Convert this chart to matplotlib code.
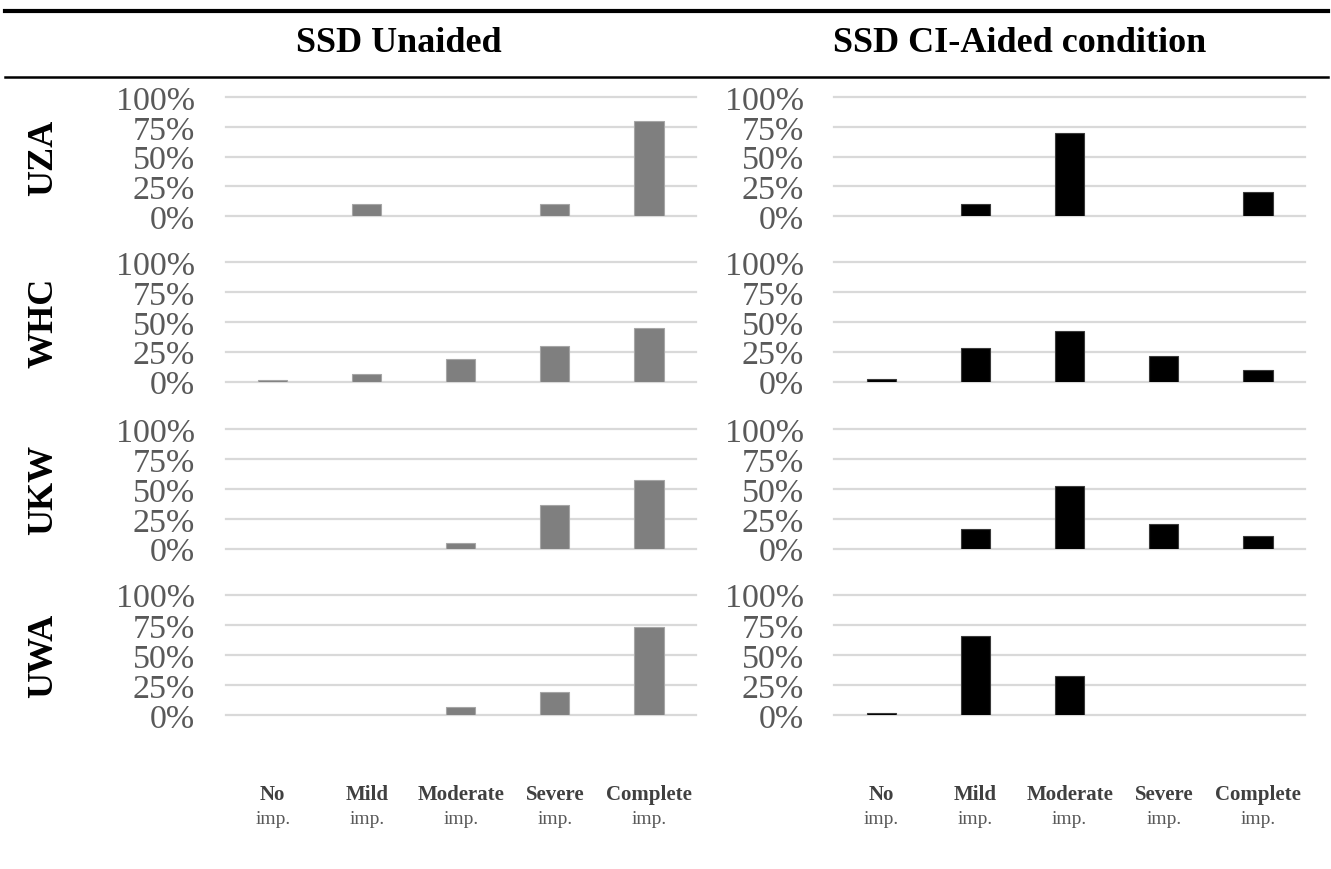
import matplotlib
matplotlib.use('Agg')
import matplotlib.pyplot as plt
import matplotlib.transforms as mtransforms
from matplotlib.lines import Line2D
from matplotlib.ticker import PercentFormatter

# data (percent of listeners per category)
categories = ['No', 'Mild', 'Moderate', 'Severe', 'Complete']
sites = ['UZA', 'WHC', 'UKW', 'UWA']

uza_unaided = [0, 10, 0, 10, 80]
uza_aided = [0, 10, 70, 0, 20]
whc_unaided = [1.5, 6, 18.5, 29.5, 45]
whc_aided = [2, 28, 42, 21, 10]
ukw_unaided = [0, 0, 5, 36.5, 57.5]
ukw_aided = [0, 16.5, 52, 20.5, 10.5]
uwa_unaided = [0, 0, 6.5, 19, 73.5]
uwa_aided = [2, 65.5, 32.5, 0, 0]

unaided_rows = [uza_unaided, whc_unaided, ukw_unaided, uwa_unaided]
aided_rows = [uza_aided, whc_aided, ukw_aided, uwa_aided]

plt.rcParams['font.family'] = ['Liberation Serif', 'DejaVu Serif']

W, H = 1331, 870
fig = plt.figure(figsize=(W / 100, H / 100), dpi=100)

# row extents in pixels (top = 100%, bottom = 0%)
row_px = [(98.3, 217), (263.3, 382.5), (430, 549.7), (595.7, 716)]
col_px = [(225.7, 696), (834.3, 1305)]
col_colors = ['#7f7f7f', '#000000']
col_edges = ['#a6a6a6', '#3a3a3a']

x = list(range(len(categories)))
axes = {}
for r, (top, bot) in enumerate(row_px):
    for c, (left, right) in enumerate(col_px):
        ax = fig.add_axes([left / W, 1 - bot / H, (right - left) / W, (bot - top) / H])
        vals = (unaided_rows if c == 0 else aided_rows)[r]
        lws = [0.8 if v > 0 else 0 for v in vals]
        ax.bar(x, [v / 100 for v in vals], width=0.31, color=col_colors[c],
               edgecolor=col_edges[c], linewidth=lws, zorder=3)
        ax.set_xlim(-0.5, 4.5)
        ax.set_ylim(0, 1)
        ax.set_yticks([0, 0.25, 0.5, 0.75, 1])
        ax.yaxis.set_major_formatter(PercentFormatter(1.0, decimals=0))
        ax.grid(axis='y', color='#d9d9d9', lw=1.6)
        for gl in ax.get_ygridlines():
            gl.set_clip_on(False)
        ax.set_axisbelow(True)
        ax.set_xticks([])
        ax.tick_params(axis='y', length=0, pad=22, labelsize=24.5, labelcolor='#595959')
        for s in ax.spines.values():
            s.set_visible(False)
        axes[(r, c)] = ax
    fig.text(44 / W, 1 - (top + bot) / 2 / H, sites[r], rotation=90, ha='center',
             va='center', fontsize=26, fontweight='bold')

# headers and rules
fig.text(399 / W, 1 - 43 / H, 'SSD Unaided', ha='center', va='center',
         fontsize=26, fontweight='bold')
fig.text(1020 / W, 1 - 43 / H, 'SSD CI-Aided condition', ha='center', va='center',
         fontsize=26, fontweight='bold')
fig.add_artist(Line2D([0.004, 0.998], [1 - 12 / H] * 2, transform=fig.transFigure,
                      lw=3, color='black'))
fig.add_artist(Line2D([0.004, 0.998], [1 - 78 / H] * 2, transform=fig.transFigure,
                      lw=1.8, color='black'))

# category labels under the bottom row
for c in range(2):
    ax = axes[(3, c)]
    tr = mtransforms.blended_transform_factory(ax.transData, fig.transFigure)
    for i, cat in enumerate(categories):
        ax.text(i, 1 - 795 / H, cat, transform=tr, ha='center', va='center',
                fontsize=15, fontweight='bold', color='#404040')
        ax.text(i, 1 - 820 / H, 'imp.', transform=tr, ha='center', va='center',
                fontsize=14, color='#595959')

fig.savefig('out.png', dpi=100)
